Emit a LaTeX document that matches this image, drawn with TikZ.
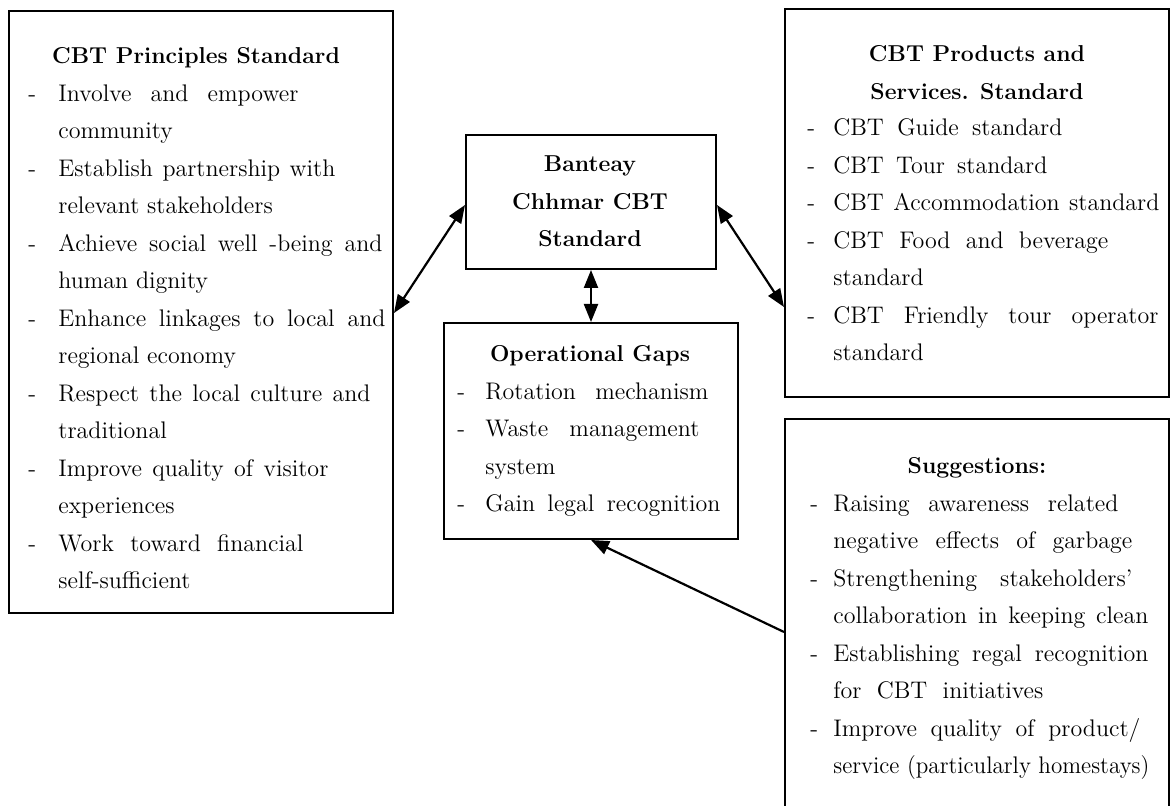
\documentclass[tikz,border=0pt]{standalone}
\usepackage{graphicx}
\usetikzlibrary{arrows.meta,calc}
\newlength\unitpx
\setlength\unitpx{0.5pt}
\newcommand\dashlist[2]{\begin{tabular}[t]{@{}p{#1}@{}l@{}}#2\end{tabular}}
\newcommand\ctrlines[1]{\begin{tabular}[t]{@{}c@{}}#1\end{tabular}}
\newcommand\sw[2]{\setbox0\hbox{#2}\ifdim\wd0<#1\unitpx\makebox[#1\unitpx][s]{#2}\else\resizebox{#1\unitpx}{\height}{#2}\fi}
\begin{document}
\begin{tikzpicture}[x=0.5pt,y=-0.5pt,
  box/.style={draw, line width=1pt, inner sep=0pt, anchor=north west},
  txt/.style={inner sep=0pt, anchor=base west, font=\fontsize{12}{18.75}\selectfont},
  head/.style={inner sep=0pt, anchor=base, font=\fontsize{11.5}{18.75}\selectfont\bfseries},
  dbl/.style={line width=1.1pt, {Triangle[length=9pt,width=7pt]}-{Triangle[length=9pt,width=7pt]}},
  sgl/.style={line width=1.1pt, -{Triangle[length=9pt,width=7pt]}}]
\useasboundingbox (0,0) rectangle (1174,806);

% boxes
\node[box, minimum width=192pt, minimum height=301pt] (L) at (8,10) {};
\node[box, minimum width=192pt, minimum height=194pt] (R) at (784,8) {};
\node[box, minimum width=125pt, minimum height=67pt] (B) at (465,134) {};
\node[box, minimum width=147pt, minimum height=108pt] (O) at (443,322) {};
\node[box, minimum width=192pt, minimum height=197pt] (S) at (784,418) {};

% left box text
\node[head] (Lh) at (196,64) {CBT Principles Standard};
\node[txt] (Li) at (28,101.5) {\dashlist{15pt}{%
- & \sw{240}{Involve and empower}\\
  & community\\
- & \sw{277}{Establish partnership with}\\
  & relevant stakeholders\\
- & \sw{324}{Achieve social well -being and}\\
  & human dignity\\
- & \sw{327}{Enhance linkages to local and}\\
  & regional economy\\
- & \sw{312}{Respect the local culture and}\\
  & traditional\\
- & \sw{270}{Improve quality of visitor}\\
  & experiences\\
- & \sw{245}{Work toward financial}\\
  & self-sufficient}};

% right box text
\node[head] (Rh) at (977,62) {\ctrlines{CBT Products and\\ Services. Standard}};
\node[txt] (Ri) at (807,136) {\dashlist{13pt}{%
- & \sw{229}{CBT Guide standard}\\
- & \sw{214}{CBT Tour standard}\\
- & \sw{326}{CBT Accommodation standard}\\
- & \sw{275}{CBT Food and beverage}\\
  & standard\\
- & \sw{325}{CBT Friendly tour operator}\\
  & standard}};

% centre box
\node[head] (Bh) at (590,172) {\ctrlines{Banteay\\ Chhmar CBT\\ Standard}};

% operational gaps
\node[head] (Oh) at (590,362) {Operational Gaps};
\node[txt] (Oi) at (457,399.5) {\dashlist{14pt}{%
- & \sw{223}{Rotation mechanism}\\
- & \sw{214}{Waste management}\\
  & system\\
- & \sw{235}{Gain legal recognition}}};

% suggestions
\node[head] (Sh) at (977,474) {Suggestions:};
\node[txt] (Si) at (810,511.5) {\dashlist{11.5pt}{%
- & \sw{285}{Raising awareness related}\\
  & \sw{299}{negative effects of garbage}\\
- & \sw{299}{Strengthening stakeholders'}\\
  & \sw{315}{collaboration in keeping clean}\\
- & \sw{315}{Establishing regal recognition}\\
  & \sw{210}{for CBT initiatives}\\
- & \sw{307}{Improve quality of product/}\\
  & \sw{316}{service (particularly homestays)}}};

% connectors
\draw[dbl] ($(L.north east)+(0,303)$) -- ($(B.north west)+(0,71)$);
\draw[dbl] ($(B.north east)+(0,71)$) -- ($(R.north west)+(0,299)$);
\draw[dbl] (B.south) -- (O.north);
\draw[sgl] ($(S.north west)+(0,214)$) -- (O.south);
\end{tikzpicture}
\end{document}
